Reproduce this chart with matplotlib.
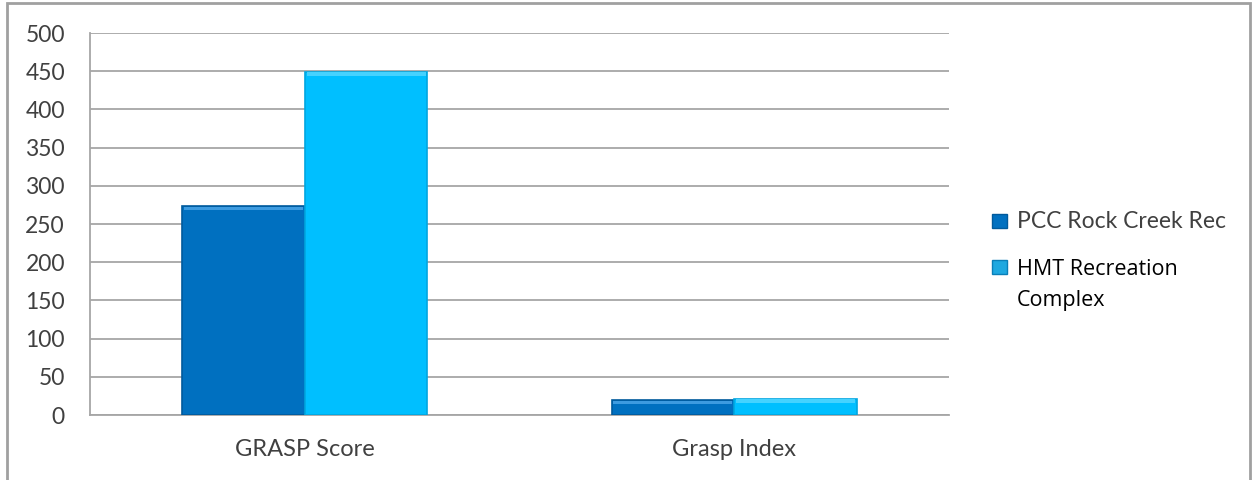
import matplotlib
matplotlib.use("Agg")
import matplotlib.pyplot as plt
from matplotlib.patches import Rectangle

categories = ["GRASP Score", "Grasp Index"]
pcc_vals = [273, 19]
hmt_vals = [449, 21]
series_names = ["PCC Rock Creek Rec", "HMT Recreation\nComplex"]
yticks = [0, 50, 100, 150, 200, 250, 300, 350, 400, 450, 500]

dark = "#0070C0"
light = "#00BFFF"
grid_col = "#A6A6A6"
txt_col = "#404040"

fig = plt.figure(figsize=(12.52, 4.8), dpi=100)
ax = fig.add_axes([90 / 1252, 65 / 480, 859 / 1252, 382 / 480])

# gap width 150% like the spreadsheet default
w = 1 / 3.5
x = list(range(len(categories)))
ax.bar([i - w / 2 for i in x], pcc_vals, w, color=dark, edgecolor="#005A9C", linewidth=1.2, zorder=3)
ax.bar([i + w / 2 for i in x], hmt_vals, w, color=light, edgecolor="#00A6E0", linewidth=1.2, zorder=3)
# bevel highlight along the bar tops
ax.bar([i - w / 2 for i in x], [4.5] * 2, w * 0.97, bottom=[v - 5 for v in pcc_vals],
       color="#3D9BE0", linewidth=0, zorder=4)
ax.bar([i + w / 2 for i in x], [4.5] * 2, w * 0.97, bottom=[v - 5 for v in hmt_vals],
       color="#45D2FF", linewidth=0, zorder=4)

ax.set_xlim(-0.5, 1.5)
ax.set_ylim(0, 500)
ax.set_yticks(yticks)
ax.set_xticks(x)
ax.set_xticklabels(categories)
ax.yaxis.grid(True, color=grid_col, linewidth=1.3, zorder=0)
for s in ["top", "right"]:
    ax.spines[s].set_visible(False)
for s in ["left", "bottom"]:
    ax.spines[s].set_color(grid_col)
    ax.spines[s].set_linewidth(1.3)
ax.tick_params(length=0, labelcolor=txt_col)
for lab in ax.get_yticklabels():
    lab.set_fontfamily("Lato")
    lab.set_fontsize(16.5)
for lab in ax.get_xticklabels():
    lab.set_fontfamily("Lato")
    lab.set_fontsize(17)
ax.tick_params(axis="x", pad=17)
ax.tick_params(axis="y", pad=18)

# legend drawn by hand so the square lines up with the first text line
fig.patches.append(Rectangle((992 / 1252, 1 - 228 / 480), 15 / 1252, 14 / 480,
                             transform=fig.transFigure, facecolor=dark, edgecolor="#005A9C"))
fig.text(1017 / 1252, 1 - 221 / 480, series_names[0], fontfamily="Lato", fontsize=16.5,
         color=txt_col, va="center", ha="left")
fig.patches.append(Rectangle((992 / 1252, 1 - 274 / 480), 15 / 1252, 14 / 480,
                             transform=fig.transFigure, facecolor="#1EA8E0", edgecolor="#0A7FB8"))
fig.text(1017 / 1252, 1 - 285 / 480, series_names[1], fontfamily="Open Sans", fontsize=15.5,
         color="black", va="center", ha="left", linespacing=1.6)

# chart frame
fig.patches.append(Rectangle((7 / 1252, -0.02), 1243 / 1252, 1.02 - 3 / 480, transform=fig.transFigure,
                             fill=False, edgecolor="#A0A0A0", linewidth=2))

fig.savefig("out.png", dpi=100)
